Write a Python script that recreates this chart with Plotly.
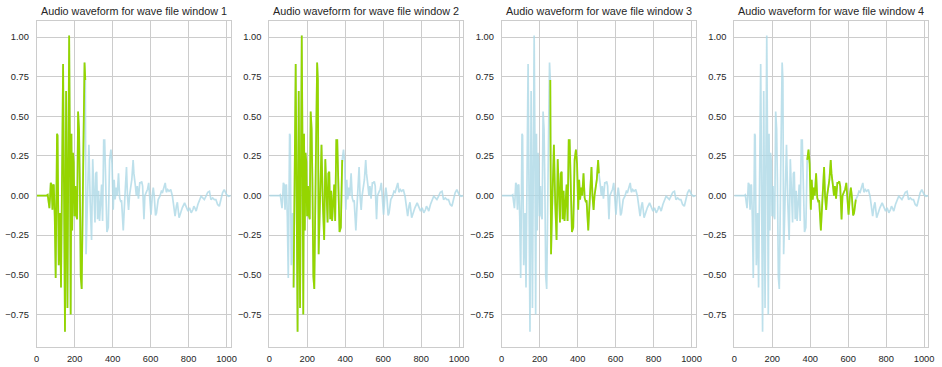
import plotly.graph_objects as go
from plotly.subplots import make_subplots

# Waveform samples (sample index) and amplitudes
sample_idx = [0, 20, 40, 52, 58, 63, 67, 70, 74, 78, 83, 86, 90, 95, 100, 107, 110, 116, 123, 128,
              131, 139, 144, 149, 155, 159, 162, 166, 171, 175, 179, 183, 187, 191, 195, 199, 204,
              209, 213, 218, 223, 227, 232, 237, 241, 246, 252, 256, 260, 265, 270, 275, 282, 289,
              295, 301, 307, 311, 316, 321, 326, 331, 336, 342, 347, 353, 358, 363, 370, 377, 384,
              391, 397, 403, 408, 413, 419, 424, 431, 437, 442, 447, 456, 461, 466, 473, 478, 484,
              489, 496, 501, 508, 512, 520, 525, 530, 536, 543, 548, 553, 558, 565, 570, 577, 584,
              590, 596, 602, 609, 614, 619, 626, 631, 640, 649, 657, 663, 670, 677, 683, 690, 697,
              706, 715, 722, 729, 736, 741, 750, 757, 767, 779, 788, 797, 805, 814, 823, 828, 833,
              840, 849, 857, 866, 875, 883, 892, 901, 910, 918, 927, 936, 944, 953, 962, 970, 979,
              988, 993, 1000, 1010, 1022]
amplitude = [0.0, 0.0, 0.002, 0.0, 0.005, -0.03, -0.08, -0.02, 0.08, 0.07, -0.09, 0.06, 0.07, -0.13,
             -0.52, 0.39, 0.38, -0.44, -0.11, -0.58, -0.12, 0.83, 0.0, -0.86, 0.66, -0.1, -0.71, 0.1,
             1.01, 0.3, -0.75, 0.39, -0.22, 0.27, 0.21, -0.13, 0.06, -0.13, -0.15, 0.53, 0.42, 0.1,
             -0.51, -0.59, 0.0, 0.3, 0.84, 0.73, -0.37, -0.1, 0.2, 0.32, -0.05, -0.28, 0.23, 0.05,
             -0.17, 0.14, 0.15, -0.15, 0.03, -0.16, 0.0, 0.07, -0.16, 0.35, 0.35, 0.0, -0.23, -0.2,
             0.225, 0.29, 0.2, -0.09, 0.1, -0.025, 0.05, 0.0, 0.14, -0.015, -0.035, -0.03, -0.22,
             -0.09, 0.0, 0.18, 0.0, -0.09, 0.0, 0.06, 0.1, 0.225, 0.14, 0.06, 0.0, 0.06, -0.02, 0.08,
             0.08, 0.09, 0.06, -0.15, 0.0, 0.02, 0.04, 0.08, 0.0, -0.12, 0.0, 0.05, 0.0, -0.125,
             -0.11, -0.025, -0.004, 0.027, 0.021, 0.048, 0.08, 0.021, 0.038, 0.027, 0.038, -0.004,
             -0.088, -0.13, -0.067, -0.042, -0.14, -0.109, -0.077, -0.046, -0.067, -0.098, -0.077,
             -0.109, -0.088, -0.067, -0.077, -0.098, -0.056, -0.036, -0.004, -0.015, -0.025, -0.004,
             0.021, 0.027, -0.025, -0.015, -0.025, -0.025, -0.056, -0.067, -0.025, 0.017, 0.038,
             0.027, 0.006, -0.004, 0.0]

window_starts = [0, 128, 256, 384]
window_size = 256
titles = ["Audio waveform for wave file window %d" % (i + 1) for i in range(4)]
x_ticks = [0, 200, 400, 600, 800, 1000]
y_ticks = [-0.75, -0.5, -0.25, 0.0, 0.25, 0.5, 0.75, 1.0]

W, H = 942, 367
left_px = [36.7, 269.3, 501.7, 734.3]
plot_w = 194.0
top_px, bottom_px = 20.7, 346.7

fig = make_subplots(rows=1, cols=4)

for i, start in enumerate(window_starts):
    fig.add_trace(go.Scatter(x=sample_idx, y=amplitude, mode="lines",
                             line=dict(color="rgba(173,216,230,0.8)", width=1.7),
                             hoverinfo="skip", showlegend=False), row=1, col=i + 1)
    wx = [s for s in sample_idx if start <= s <= start + window_size]
    wy = [a for s, a in zip(sample_idx, amplitude) if start <= s <= start + window_size]
    fig.add_trace(go.Scatter(x=wx, y=wy, mode="lines",
                             line=dict(color="#95d500", width=1.8),
                             hoverinfo="skip", showlegend=False), row=1, col=i + 1)

axis_common = dict(showgrid=True, gridcolor="#cccccc", gridwidth=1, zeroline=False,
                   showline=True, linecolor="#cccccc", linewidth=1, mirror=True,
                   ticks="", automargin=False,
                   tickfont=dict(family="Liberation Sans, Arial, sans-serif", size=9.3, color="#262626"))

annotations = []
for i in range(4):
    x0 = left_px[i] / W
    x1 = (left_px[i] + plot_w) / W
    xa = "xaxis" if i == 0 else "xaxis%d" % (i + 1)
    ya = "yaxis" if i == 0 else "yaxis%d" % (i + 1)
    fig.layout[xa].update(domain=[x0, x1], range=[0, 1022], tickvals=x_ticks,
                          ticklabelstandoff=3, **axis_common)
    fig.layout[ya].update(domain=[(H - bottom_px) / H, (H - top_px) / H], range=[-0.954, 1.104],
                          tickvals=y_ticks, tickformat=".2f", ticklabelstandoff=5, **axis_common)
    annotations.append(dict(text=titles[i], x=(x0 + x1) / 2, y=1 - 11.5 / H, xref="paper", yref="paper",
                            xanchor="center", yanchor="middle", showarrow=False,
                            font=dict(family="Liberation Sans, Arial, sans-serif", size=10.8, color="#262626")))

fig.update_layout(width=W, height=H, margin=dict(l=0, r=0, t=0, b=0),
                  paper_bgcolor="white", plot_bgcolor="white", annotations=annotations)

fig.write_html("out.html", config={"displayModeBar": False},
               post_script="document.body.style.margin='0';document.body.style.padding='0';"
                           "document.body.style.overflow='hidden';")
